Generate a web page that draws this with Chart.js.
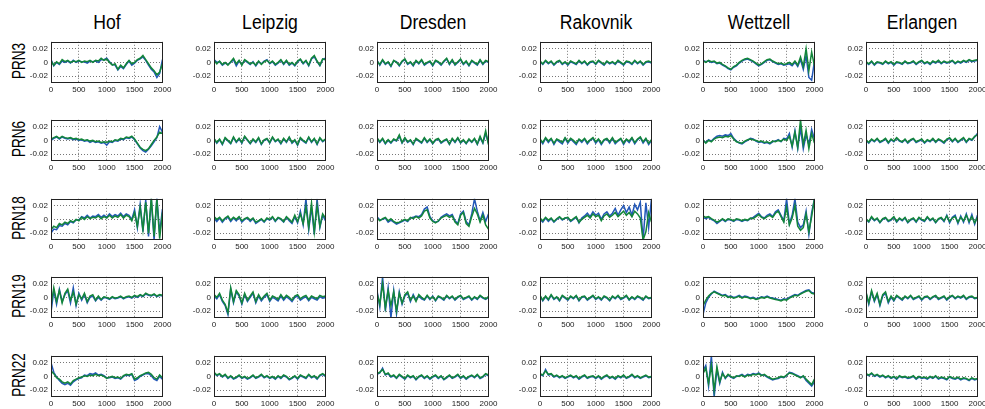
<!DOCTYPE html>
<html>
<head>
<meta charset="utf-8">
<script src="https://cdn.jsdelivr.net/npm/chart.js@4.4.0/dist/chart.umd.min.js"></script>
<style>
  body { margin: 0; background: #fff; }
  #page { position: relative; width: 985px; height: 409px; overflow: hidden; font-family: "Liberation Sans", Arial, sans-serif; }
  .title { position: absolute; top: 12px; font-size: 20px; line-height: 20px; color: #000; white-space: nowrap; transform: translateX(-50%) scaleX(0.88); }
  .rowlabel { position: absolute; font-size: 18px; line-height: 18px; color: #000; white-space: nowrap; transform: translate(-50%, -50%) rotate(-90deg) scaleX(0.75); }
  .panel { position: absolute; }
</style>
</head>
<body>
<div id="page"></div>
<script>
// Stations (columns) and satellites (rows)
const stations = ["Hof", "Leipzig", "Dresden", "Rakovnik", "Wettzell", "Erlangen"];
const satellites = ["PRN3", "PRN6", "PRN18", "PRN19", "PRN22"];
const xTicks = [0, 500, 1000, 1500, 2000];
const yTicks = [-0.02, 0, 0.02];

// Epochs (x values), shared by every panel
const epochs = [0,50,100,150,200,250,300,350,400,450,500,550,600,650,700,750,800,850,900,950,
  1000,1050,1100,1150,1200,1250,1300,1350,1400,1450,1500,1550,1600,1650,1700,1750,1800,1850,1900,1950,2000];

// ---- PRN3 ----
const hof3Blue = [0.004,-0.005,0.000,-0.003,0.002,0.000,0.002,-0.001,0.003,0.000,
  0.002,0.001,0.001,-0.001,0.002,0.001,0.002,0.000,0.004,0.004,
  0.006,0.001,-0.003,-0.004,-0.011,-0.006,-0.009,-0.003,0.002,-0.004,
  -0.001,0.003,0.005,0.008,0.003,-0.004,-0.010,-0.014,-0.022,-0.016,0.004];
const hof3Green = [0.002,-0.004,0.001,-0.002,0.004,0.001,0.003,0.000,0.002,0.001,
  0.003,0.000,0.002,0.001,0.003,0.000,0.003,0.002,0.006,0.003,
  0.005,0.000,-0.004,-0.002,-0.010,-0.004,-0.008,-0.002,0.003,-0.002,
  0.000,0.004,0.006,0.010,0.004,-0.002,-0.008,-0.012,-0.018,-0.014,-0.002];
const leipzig3Blue = [0.004,0.000,0.001,-0.004,-0.001,-0.003,0.000,0.004,-0.005,0.002,
  -0.003,0.003,0.000,-0.003,0.001,-0.005,0.001,-0.002,0.002,0.004,
  -0.002,0.001,-0.004,-0.001,0.003,-0.003,0.002,-0.004,-0.001,-0.005,
  0.001,0.004,-0.002,0.002,-0.005,0.005,0.008,0.001,-0.005,0.004,0.006];
const leipzig3Green = [0.003,-0.002,0.002,-0.003,0.000,-0.004,0.001,0.006,-0.002,0.003,
  -0.004,0.004,0.001,-0.002,0.000,-0.004,0.002,-0.003,0.001,0.003,
  -0.001,0.002,-0.003,0.000,0.004,-0.002,0.003,-0.003,0.000,-0.004,
  0.002,0.005,-0.001,0.003,-0.004,0.006,0.010,0.002,-0.004,0.005,0.004];
const dresden3Blue = [0.003,-0.004,0.003,-0.003,0.000,-0.006,0.002,0.001,-0.005,0.001,
  0.004,-0.003,0.000,-0.005,0.002,-0.002,0.003,-0.004,-0.001,0.001,
  -0.005,0.002,0.000,-0.004,0.001,0.005,-0.003,0.003,-0.004,0.000,
  0.004,-0.003,0.001,-0.005,0.002,-0.001,-0.004,0.003,-0.003,0.002,0.000];
const dresden3Green = [0.002,-0.003,0.004,-0.002,0.001,-0.005,0.003,0.000,-0.004,0.002,
  0.005,-0.002,0.001,-0.004,0.003,-0.001,0.004,-0.003,0.000,0.002,
  -0.004,0.003,0.001,-0.003,0.002,0.006,-0.002,0.004,-0.003,0.001,
  0.005,-0.002,0.002,-0.004,0.003,0.000,-0.003,0.004,-0.002,0.003,0.001];
const rakovnik3Blue = [0.001,-0.003,0.002,-0.002,0.001,-0.004,0.000,0.002,-0.003,0.000,
  -0.004,0.001,-0.001,-0.003,0.002,-0.002,0.001,-0.004,0.000,0.001,
  -0.003,0.002,-0.001,-0.004,0.001,-0.002,0.000,-0.003,0.002,-0.001,
  -0.004,0.001,0.000,-0.003,0.002,-0.002,0.001,-0.004,0.000,0.001,-0.001];
const rakovnik3Green = [0.002,-0.002,0.003,-0.001,0.002,-0.003,0.001,0.003,-0.002,0.001,
  -0.003,0.002,0.000,-0.002,0.003,-0.001,0.002,-0.003,0.001,0.002,
  -0.002,0.003,0.000,-0.003,0.002,-0.001,0.001,-0.002,0.003,0.000,
  -0.003,0.002,0.001,-0.002,0.003,-0.001,0.002,-0.003,0.001,0.002,0.000];
const wettzell3Blue = [0.003,0.001,0.002,0.000,0.001,-0.002,-0.001,-0.004,-0.006,-0.009,
  -0.011,-0.007,-0.005,-0.001,0.002,0.004,0.005,0.003,0.001,-0.002,
  -0.005,-0.003,0.000,0.003,0.004,0.001,-0.001,-0.003,-0.002,-0.004,
  -0.003,-0.002,-0.005,0.000,-0.006,0.004,-0.010,0.010,-0.022,-0.026,0.002];
const wettzell3Green = [0.002,0.000,0.003,0.001,0.002,-0.001,0.000,-0.003,-0.005,-0.008,
  -0.010,-0.006,-0.004,0.000,0.003,0.005,0.006,0.004,0.002,-0.001,
  -0.004,-0.002,0.001,0.004,0.005,0.002,0.000,-0.002,-0.001,-0.003,
  -0.002,0.000,-0.003,0.002,-0.004,0.008,-0.006,0.020,-0.012,0.015,-0.005];
const erlangen3Blue = [0.000,-0.003,0.001,-0.004,0.000,-0.001,-0.003,0.001,-0.002,0.000,
  -0.004,0.000,-0.001,-0.003,0.001,-0.002,-0.001,0.001,-0.003,0.000,
  0.002,-0.002,0.000,-0.003,0.001,-0.001,0.002,-0.002,0.001,-0.001,
  0.000,0.002,-0.002,0.001,-0.001,0.002,0.000,0.003,0.001,0.002,0.003];
const erlangen3Green = [0.001,-0.002,0.002,-0.003,0.001,0.000,-0.002,0.002,-0.001,0.001,
  -0.003,0.001,0.000,-0.002,0.002,-0.001,0.000,0.002,-0.002,0.001,
  0.003,-0.001,0.001,-0.002,0.002,0.000,0.003,-0.001,0.002,0.000,
  0.001,0.003,-0.001,0.002,0.000,0.003,0.001,0.004,0.002,0.003,0.004];

// ---- PRN6 ----
const hof6Blue = [0.000,0.003,0.005,0.002,0.005,0.003,0.002,0.003,0.001,0.002,
  0.000,0.001,-0.001,0.000,-0.003,-0.001,-0.003,-0.002,-0.004,-0.003,
  -0.007,-0.002,-0.003,0.000,-0.001,0.002,0.001,0.004,0.003,0.005,
  0.001,-0.005,-0.011,-0.015,-0.017,-0.013,-0.008,-0.002,0.004,0.020,0.012];
const hof6Green = [0.002,0.004,0.006,0.003,0.006,0.004,0.003,0.004,0.002,0.003,
  0.001,0.002,0.000,0.001,-0.001,0.000,-0.002,-0.001,-0.003,-0.002,
  -0.003,-0.001,-0.002,0.001,0.000,0.003,0.002,0.005,0.004,0.006,
  0.002,-0.004,-0.010,-0.013,-0.015,-0.012,-0.006,0.000,0.005,0.012,0.010];
const leipzig6Blue = [0.002,-0.004,0.001,-0.006,0.003,-0.001,-0.005,0.004,-0.003,0.002,
  -0.004,0.005,0.000,-0.005,0.001,-0.003,0.003,-0.006,0.000,0.002,
  -0.004,0.004,-0.002,0.001,-0.005,0.002,-0.003,0.004,-0.004,0.000,
  -0.007,0.003,-0.001,-0.004,0.004,-0.003,0.002,-0.006,0.003,-0.002,0.001];
const leipzig6Green = [0.003,-0.003,0.002,-0.005,0.004,0.000,-0.004,0.005,-0.002,0.003,
  -0.003,0.006,0.001,-0.004,0.002,-0.002,0.004,-0.005,0.001,0.003,
  -0.003,0.005,-0.001,0.002,-0.004,0.003,-0.002,0.005,-0.003,0.001,
  -0.006,0.004,0.000,-0.003,0.005,-0.002,0.003,-0.005,0.004,-0.001,0.002];
const dresden6Blue = [0.003,-0.003,0.002,-0.005,0.000,-0.004,0.001,-0.001,0.006,-0.004,
  0.003,-0.003,0.000,-0.006,0.002,-0.001,-0.004,0.003,-0.003,0.001,
  -0.005,0.000,0.002,-0.004,-0.001,0.001,-0.006,0.002,-0.003,0.003,
  -0.004,0.000,-0.005,0.001,-0.003,0.002,-0.006,0.004,-0.004,0.010,-0.004];
const dresden6Green = [0.004,-0.002,0.003,-0.004,0.001,-0.003,0.002,0.000,0.008,-0.003,
  0.004,-0.002,0.001,-0.005,0.003,0.000,-0.003,0.004,-0.002,0.002,
  -0.004,0.001,0.003,-0.003,0.000,0.002,-0.005,0.003,-0.002,0.004,
  -0.003,0.001,-0.004,0.002,-0.002,0.003,-0.005,0.006,-0.003,0.014,-0.006];
const rakovnik6Blue = [0.001,-0.005,0.003,-0.003,0.002,-0.006,0.001,-0.002,-0.005,0.003,
  -0.004,0.002,-0.002,-0.006,0.001,-0.003,0.002,-0.005,0.000,0.003,
  -0.004,0.001,-0.006,0.000,0.002,-0.004,0.003,-0.005,-0.001,0.002,
  -0.006,0.001,-0.003,0.003,-0.005,0.001,0.004,-0.004,0.002,-0.006,0.000];
const rakovnik6Green = [0.002,-0.003,0.004,-0.001,0.003,-0.004,0.002,0.000,-0.003,0.004,
  -0.002,0.003,0.000,-0.004,0.002,-0.001,0.003,-0.003,0.001,0.004,
  -0.002,0.002,-0.004,0.001,0.003,-0.002,0.004,-0.003,0.000,0.003,
  -0.004,0.002,-0.001,0.004,-0.003,0.002,0.005,-0.002,0.003,-0.004,0.001];
const wettzell6Blue = [0.000,-0.003,0.001,-0.001,0.003,0.006,0.007,0.006,0.008,0.007,
  0.010,0.003,-0.001,-0.004,-0.005,-0.002,0.000,0.003,0.002,-0.001,
  -0.003,-0.002,-0.004,-0.003,-0.005,-0.002,-0.001,0.001,-0.002,0.003,
  0.002,0.010,-0.010,0.014,-0.012,0.018,-0.012,0.008,-0.006,0.016,0.002];
const wettzell6Green = [0.001,-0.004,0.000,-0.002,0.002,0.004,0.005,0.004,0.006,0.005,
  0.007,0.002,-0.002,-0.003,-0.004,-0.001,0.001,0.002,0.001,0.000,
  -0.002,-0.001,-0.003,-0.002,-0.004,-0.001,-0.002,0.000,-0.001,0.002,
  0.000,0.006,-0.008,0.012,-0.010,0.030,-0.006,0.015,-0.012,0.010,-0.004];
const erlangen6Blue = [0.000,-0.004,0.001,-0.002,0.002,-0.003,-0.001,0.002,-0.004,0.001,
  -0.002,0.003,-0.001,-0.003,0.001,-0.004,0.000,0.002,-0.003,-0.001,
  0.001,-0.004,0.000,-0.002,0.002,-0.003,0.001,-0.001,-0.004,0.001,
  0.003,-0.002,0.002,-0.003,0.000,0.003,-0.003,0.002,0.000,0.005,0.010];
const erlangen6Green = [0.001,-0.003,0.002,-0.001,0.003,-0.002,0.000,0.003,-0.003,0.002,
  -0.001,0.004,0.000,-0.002,0.002,-0.003,0.001,0.003,-0.002,0.000,
  0.002,-0.003,0.001,-0.001,0.003,-0.002,0.002,0.000,-0.003,0.002,
  0.004,-0.001,0.003,-0.002,0.001,0.004,-0.002,0.003,0.001,0.006,0.008];

// ---- PRN18 ----
const hof18Blue = [-0.020,-0.014,-0.015,-0.009,-0.010,-0.006,-0.008,-0.003,-0.005,-0.001,
  -0.001,0.004,0.002,0.006,0.002,0.005,0.004,0.007,0.003,0.006,
  0.003,0.008,0.004,0.007,0.005,0.009,0.004,0.008,0.006,0.000,
  0.014,-0.012,0.022,-0.018,0.028,-0.025,0.030,-0.030,0.032,-0.020,0.015];
const hof18Green = [-0.015,-0.010,-0.012,-0.006,-0.008,-0.004,-0.006,-0.002,-0.004,0.000,
  -0.002,0.003,0.000,0.004,0.001,0.003,0.002,0.005,0.001,0.004,
  0.002,0.006,0.002,0.005,0.003,0.007,0.002,0.006,0.004,-0.002,
  0.010,-0.010,0.018,-0.015,0.025,-0.020,0.032,-0.025,0.030,-0.028,0.010];
const leipzig18Blue = [0.002,-0.003,0.002,-0.004,0.001,0.003,-0.003,0.002,-0.002,0.003,
  -0.004,0.000,0.002,-0.003,0.001,-0.006,-0.003,0.000,-0.004,0.001,
  -0.001,0.003,-0.003,0.002,0.000,-0.004,0.003,-0.002,-0.006,0.004,
  -0.005,0.012,-0.008,0.030,-0.015,0.018,-0.022,0.030,-0.012,0.006,-0.002];
const leipzig18Green = [0.004,0.000,0.003,-0.002,0.002,0.005,-0.001,0.003,0.000,0.004,
  -0.002,0.001,0.003,-0.001,0.002,-0.004,-0.002,0.001,-0.003,0.002,
  0.000,0.004,-0.002,0.003,0.001,-0.003,0.004,0.000,-0.004,0.006,
  -0.003,0.008,-0.006,0.018,-0.012,0.024,-0.018,0.020,-0.010,0.008,0.002];
const dresden18Blue = [0.004,-0.001,0.000,0.002,-0.004,-0.001,-0.004,-0.007,-0.005,-0.003,
  -0.001,-0.003,0.002,0.003,0.005,0.004,0.007,0.015,0.018,0.004,
  -0.002,-0.004,-0.003,0.003,0.006,0.008,0.005,0.007,-0.002,-0.006,
  0.008,0.012,-0.003,-0.008,0.008,0.030,0.012,-0.002,0.010,-0.003,0.008];
const dresden18Green = [0.002,-0.002,0.001,0.003,-0.002,0.001,-0.003,-0.005,-0.004,-0.002,
  0.000,-0.002,0.003,0.001,0.004,0.002,0.005,0.012,0.014,0.002,
  -0.003,-0.005,-0.002,0.002,0.004,0.006,0.003,0.005,-0.004,-0.008,
  0.006,0.010,-0.006,-0.010,0.004,0.016,0.008,-0.004,0.006,-0.008,-0.014];
const rakovnik18Blue = [0.000,-0.004,0.002,-0.003,0.001,-0.004,0.000,0.003,-0.001,0.002,
  0.002,-0.003,0.000,0.003,-0.005,0.002,0.005,0.009,0.004,0.011,
  0.006,0.009,0.000,0.008,0.011,0.005,0.009,0.016,0.006,0.014,
  0.020,0.010,0.018,0.006,0.022,0.014,0.025,-0.030,0.024,-0.012,0.030];
const rakovnik18Green = [0.002,-0.002,0.003,-0.001,0.002,-0.003,0.001,0.004,0.000,0.002,
  0.003,-0.002,0.001,0.004,-0.004,0.000,0.003,0.006,0.002,0.008,
  0.004,0.006,-0.002,0.005,0.008,0.003,0.006,0.010,0.004,0.008,
  0.012,0.006,0.010,0.004,0.012,0.008,0.002,-0.030,-0.018,0.010,-0.004];
const wettzell18Blue = [0.003,0.001,0.003,0.000,-0.002,-0.006,-0.003,0.000,-0.003,0.000,
  -0.001,-0.003,0.000,-0.001,-0.003,-0.001,-0.002,0.001,0.003,0.006,
  0.009,0.004,0.002,0.006,0.008,0.004,0.011,0.014,0.006,-0.002,
  0.030,-0.006,0.006,0.030,-0.004,-0.012,-0.008,0.012,-0.022,0.010,0.030];
const wettzell18Green = [0.005,0.003,0.004,0.001,-0.001,-0.004,-0.002,0.001,-0.002,0.001,
  0.000,-0.002,0.001,0.000,-0.002,0.000,-0.001,0.002,0.001,0.004,
  0.007,0.003,0.001,0.004,0.006,0.003,0.009,0.012,0.004,-0.004,
  0.018,-0.008,0.002,0.020,-0.010,-0.016,-0.012,0.008,-0.018,0.004,0.030];
const erlangen18Blue = [0.000,-0.004,0.003,-0.002,0.001,-0.005,0.000,0.002,-0.003,-0.001,
  0.003,-0.004,0.001,-0.002,0.002,-0.005,-0.001,0.001,-0.004,0.002,
  -0.001,-0.003,0.003,-0.002,0.001,-0.005,0.000,0.002,-0.003,0.006,
  -0.005,0.003,0.006,-0.006,0.005,-0.004,0.008,-0.005,0.007,-0.007,0.006];
const erlangen18Green = [0.001,-0.003,0.004,-0.001,0.002,-0.004,0.001,0.003,-0.002,0.000,
  0.004,-0.003,0.002,-0.001,0.003,-0.004,0.000,0.002,-0.003,0.003,
  0.000,-0.002,0.004,-0.001,0.002,-0.004,0.001,0.003,-0.002,0.005,
  -0.003,0.002,0.004,-0.004,0.003,-0.002,0.006,-0.003,0.004,-0.005,0.003];

// ---- PRN19 ----
const hof19Blue = [-0.022,0.010,-0.010,0.012,-0.006,0.004,0.010,-0.008,0.014,-0.012,
  0.006,-0.004,0.004,-0.008,0.000,0.002,-0.005,0.000,-0.004,0.000,
  -0.001,-0.003,0.000,-0.002,-0.001,0.001,-0.002,0.000,0.001,-0.001,
  0.002,0.000,0.003,0.001,0.005,0.003,0.002,0.004,0.001,0.003,0.002];
const hof19Green = [-0.012,0.014,-0.006,0.010,-0.008,0.006,0.012,-0.004,0.008,-0.010,
  0.004,-0.002,0.006,-0.006,0.002,0.004,-0.004,0.002,-0.003,0.001,
  0.000,-0.002,0.001,-0.001,0.000,0.002,-0.001,0.001,0.002,0.000,
  0.003,0.001,0.004,0.002,0.006,0.004,0.003,0.005,0.002,0.004,0.003];
const leipzig19Blue = [0.002,-0.002,0.004,-0.006,-0.012,-0.025,0.012,-0.008,0.008,0.002,
  -0.010,0.004,-0.006,0.000,0.006,-0.008,0.002,-0.005,0.000,0.004,
  -0.006,0.000,-0.002,-0.005,0.002,-0.004,0.001,-0.002,-0.006,0.000,
  0.002,-0.004,-0.001,0.001,-0.005,0.000,-0.002,-0.004,0.001,-0.001,0.000];
const leipzig19Green = [0.004,0.000,0.006,-0.004,-0.010,-0.022,0.014,-0.006,0.010,0.004,
  -0.008,0.006,-0.004,0.002,0.008,-0.006,0.004,-0.003,0.002,0.006,
  -0.004,0.002,0.000,-0.003,0.004,-0.002,0.003,0.000,-0.004,0.002,
  0.004,-0.002,0.001,0.003,-0.003,0.002,0.000,-0.002,0.003,0.001,0.002];
const dresden19Blue = [0.010,-0.014,0.030,-0.020,0.014,-0.030,0.010,-0.024,0.008,-0.010,
  0.002,0.006,-0.006,0.004,-0.004,0.002,-0.002,-0.004,0.002,-0.003,
  0.002,-0.005,0.001,-0.001,-0.004,0.002,-0.002,0.001,-0.004,0.000,
  0.002,-0.003,-0.001,0.001,-0.004,0.000,-0.003,0.002,-0.001,-0.003,0.000];
const dresden19Green = [0.006,-0.010,0.020,-0.015,0.010,-0.012,0.008,-0.020,0.006,-0.008,
  0.004,0.008,-0.004,0.002,-0.006,0.004,0.000,-0.003,0.003,-0.002,
  0.001,-0.004,0.002,0.000,-0.003,0.003,-0.001,0.002,-0.003,0.001,
  0.003,-0.002,0.000,0.002,-0.003,0.001,-0.002,0.003,0.000,-0.002,0.001];
const rakovnik19Blue = [0.002,-0.005,0.001,-0.004,0.003,-0.003,0.000,-0.005,0.002,-0.001,
  -0.004,0.001,-0.002,0.002,-0.005,0.000,0.001,-0.004,-0.001,0.002,
  -0.003,0.000,-0.004,0.001,-0.001,-0.005,0.001,-0.002,0.002,-0.003,
  -0.001,0.002,-0.004,0.000,-0.003,0.001,-0.001,-0.004,0.001,-0.002,-0.001];
const rakovnik19Green = [0.003,-0.004,0.002,-0.003,0.004,-0.002,0.001,-0.004,0.003,0.000,
  -0.003,0.002,-0.001,0.003,-0.004,0.001,0.002,-0.003,0.000,0.003,
  -0.002,0.001,-0.003,0.002,0.000,-0.004,0.002,-0.001,0.003,-0.002,
  0.000,0.003,-0.003,0.001,-0.002,0.002,0.000,-0.003,0.002,-0.001,0.000];
const wettzell19Blue = [-0.025,-0.008,0.000,0.005,0.009,0.007,0.005,0.003,0.004,0.001,
  0.002,0.000,0.001,0.003,0.000,0.002,0.001,-0.001,0.000,-0.002,
  -0.001,0.001,0.000,0.002,0.000,-0.001,-0.002,-0.003,-0.004,-0.002,
  -0.003,0.000,0.002,0.004,0.003,0.006,0.008,0.010,0.011,0.007,0.006];
const wettzell19Green = [-0.012,-0.004,0.002,0.006,0.008,0.006,0.004,0.002,0.003,0.000,
  0.001,-0.001,0.000,0.002,-0.001,0.001,0.000,-0.002,-0.001,-0.003,
  -0.002,0.000,-0.001,0.001,-0.001,-0.002,-0.003,-0.004,-0.005,-0.003,
  -0.004,-0.001,0.001,0.003,0.002,0.005,0.007,0.009,0.010,0.006,0.005];
const erlangen19Blue = [0.006,-0.010,0.008,-0.006,0.004,-0.012,0.002,0.006,-0.008,0.000,
  -0.005,0.002,-0.001,-0.004,0.001,-0.002,0.002,-0.003,-0.001,0.001,
  -0.004,0.000,0.001,-0.003,0.000,0.002,-0.003,-0.001,0.001,-0.004,
  0.000,0.002,-0.002,0.001,-0.001,0.002,-0.003,0.000,0.001,-0.002,-0.001];
const erlangen19Green = [0.008,-0.008,0.010,-0.004,0.006,-0.010,0.004,0.008,-0.006,0.002,
  -0.004,0.003,0.000,-0.003,0.002,-0.001,0.003,-0.002,0.000,0.002,
  -0.003,0.001,0.002,-0.002,0.001,0.003,-0.002,0.000,0.002,-0.003,
  0.001,0.003,-0.001,0.002,0.000,0.003,-0.002,0.001,0.002,-0.001,0.000];

// ---- PRN22 ----
const hof22Blue = [0.020,0.006,-0.001,-0.006,-0.010,-0.012,-0.010,-0.013,-0.008,-0.005,
  -0.003,-0.002,0.002,0.001,0.004,0.003,0.005,0.002,0.003,0.001,
  -0.002,-0.002,-0.001,-0.003,-0.002,-0.004,0.000,0.002,0.001,0.003,
  -0.006,-0.004,0.000,0.002,0.004,0.004,0.001,-0.004,-0.006,0.000,-0.004];
const hof22Green = [0.008,0.004,-0.002,-0.004,-0.008,-0.010,-0.008,-0.011,-0.006,-0.004,
  -0.002,-0.001,0.001,0.000,0.002,0.001,0.003,0.001,0.002,0.000,
  -0.003,-0.001,0.000,-0.002,-0.001,-0.003,0.001,0.003,0.002,0.004,
  -0.004,-0.002,0.001,0.003,0.005,0.006,0.003,-0.002,-0.004,0.002,-0.002];
const leipzig22Blue = [0.005,0.001,0.003,-0.001,0.002,-0.003,0.000,-0.004,-0.002,0.001,
  -0.003,-0.001,-0.004,-0.002,0.001,-0.003,-0.001,0.002,-0.002,0.000,
  -0.003,-0.001,-0.004,0.000,-0.003,0.001,-0.001,-0.005,-0.003,0.000,
  -0.004,0.001,-0.001,-0.003,0.002,-0.002,0.000,-0.004,0.001,0.003,0.000];
const leipzig22Green = [0.006,0.002,0.004,0.000,0.003,-0.002,0.001,-0.003,-0.001,0.002,
  -0.002,0.000,-0.003,-0.001,0.002,-0.002,0.000,0.003,-0.001,0.001,
  -0.002,0.000,-0.003,0.001,-0.002,0.002,0.000,-0.004,-0.002,0.001,
  -0.003,0.002,0.000,-0.002,0.003,-0.001,0.001,-0.003,0.002,0.004,0.001];
const dresden22Blue = [0.003,0.005,0.012,0.002,0.004,-0.001,0.001,-0.003,0.002,-0.001,
  -0.004,0.001,-0.002,0.000,-0.005,-0.001,0.001,-0.003,0.000,-0.004,
  -0.001,0.001,-0.003,0.000,-0.005,-0.002,0.001,-0.003,-0.001,0.002,
  -0.003,0.000,-0.004,-0.001,0.001,-0.002,0.002,-0.003,-0.001,0.003,0.001];
const dresden22Green = [0.004,0.006,0.010,0.003,0.005,0.000,0.002,-0.002,0.003,0.000,
  -0.003,0.002,-0.001,0.001,-0.004,0.000,0.002,-0.002,0.001,-0.003,
  0.000,0.002,-0.002,0.001,-0.004,-0.001,0.002,-0.002,0.000,0.003,
  -0.002,0.001,-0.003,0.000,0.002,-0.001,0.003,-0.002,0.000,0.004,0.002];
const rakovnik22Blue = [0.003,0.001,0.010,0.002,0.003,-0.001,0.001,-0.002,0.000,-0.003,
  -0.001,0.001,-0.002,0.000,-0.004,-0.001,0.001,-0.003,-0.001,0.000,
  -0.003,0.000,-0.004,-0.001,0.001,-0.003,-0.001,-0.004,0.000,-0.002,
  0.001,-0.003,-0.001,0.002,-0.002,0.000,-0.003,-0.001,0.001,-0.002,-0.001];
const rakovnik22Green = [0.004,0.002,0.008,0.003,0.004,0.000,0.002,-0.001,0.001,-0.002,
  0.000,0.002,-0.001,0.001,-0.003,0.000,0.002,-0.002,0.000,0.001,
  -0.002,0.001,-0.003,0.000,0.002,-0.002,0.000,-0.003,0.001,-0.001,
  0.002,-0.002,0.000,0.003,-0.001,0.001,-0.002,0.000,0.002,-0.001,0.000];
const wettzell22Blue = [0.008,0.016,-0.014,0.030,-0.030,0.010,-0.010,0.006,-0.003,0.002,
  -0.001,-0.003,0.000,0.001,0.003,0.000,0.003,0.002,0.004,0.003,
  0.005,0.002,0.002,-0.001,-0.003,-0.005,-0.004,-0.003,-0.001,-0.002,
  0.001,0.006,0.005,0.003,0.001,-0.001,0.000,-0.006,-0.010,-0.014,-0.008];
const wettzell22Green = [0.004,0.012,-0.010,0.016,-0.020,0.014,-0.008,0.004,-0.002,0.003,
  0.000,-0.002,0.001,0.000,0.002,-0.001,0.002,0.001,0.003,0.002,
  0.004,0.001,0.003,0.000,-0.002,-0.004,-0.003,-0.002,0.000,-0.001,
  0.002,0.005,0.004,0.002,0.000,-0.002,0.001,-0.004,-0.008,-0.012,-0.004];
const erlangen22Blue = [0.003,0.001,0.004,0.000,0.002,-0.001,0.001,-0.002,0.000,-0.003,
  -0.001,-0.004,0.000,-0.002,-0.001,-0.003,-0.002,0.000,-0.004,-0.001,
  -0.003,-0.002,-0.004,-0.001,-0.003,0.000,-0.004,-0.002,-0.003,-0.005,
  -0.001,-0.003,-0.004,-0.002,-0.005,-0.003,-0.004,-0.006,-0.003,-0.005,-0.004];
const erlangen22Green = [0.004,0.002,0.005,0.001,0.003,0.000,0.002,-0.001,0.001,-0.002,
  0.000,-0.003,0.001,-0.001,0.000,-0.002,-0.001,0.001,-0.003,0.000,
  -0.002,-0.001,-0.003,0.000,-0.002,0.001,-0.003,-0.001,-0.002,-0.004,
  0.000,-0.002,-0.003,-0.001,-0.004,-0.002,-0.003,-0.005,-0.002,-0.004,-0.003];

// rows = satellites, cols = stations, each cell [blue, green]
const panels = [
  [[hof3Blue, hof3Green], [leipzig3Blue, leipzig3Green], [dresden3Blue, dresden3Green], [rakovnik3Blue, rakovnik3Green], [wettzell3Blue, wettzell3Green], [erlangen3Blue, erlangen3Green]],
  [[hof6Blue, hof6Green], [leipzig6Blue, leipzig6Green], [dresden6Blue, dresden6Green], [rakovnik6Blue, rakovnik6Green], [wettzell6Blue, wettzell6Green], [erlangen6Blue, erlangen6Green]],
  [[hof18Blue, hof18Green], [leipzig18Blue, leipzig18Green], [dresden18Blue, dresden18Green], [rakovnik18Blue, rakovnik18Green], [wettzell18Blue, wettzell18Green], [erlangen18Blue, erlangen18Green]],
  [[hof19Blue, hof19Green], [leipzig19Blue, leipzig19Green], [dresden19Blue, dresden19Green], [rakovnik19Blue, rakovnik19Green], [wettzell19Blue, wettzell19Green], [erlangen19Blue, erlangen19Green]],
  [[hof22Blue, hof22Green], [leipzig22Blue, leipzig22Green], [dresden22Blue, dresden22Green], [rakovnik22Blue, rakovnik22Green], [wettzell22Blue, wettzell22Green], [erlangen22Blue, erlangen22Green]]
];

// layout of the grid (plot area positions in px)
const colLeft = [51, 214, 377, 540, 703, 866];
const rowTop = [38, 116, 195, 273, 352];
const plotW = 112, plotH = 45;
const axisW = 44, axisH = 18, padTop = 4, padRight = 14;

const tickFont = { family: "'Liberation Sans Narrow', 'Arial Narrow', 'Liberation Sans', Arial, sans-serif", size: 8 };

// box around each plot area
const framePlugin = {
  id: 'frame',
  afterDraw(chart) {
    const a = chart.chartArea;
    const ctx = chart.ctx;
    ctx.save();
    ctx.strokeStyle = '#222';
    ctx.lineWidth = 1;
    ctx.strokeRect(Math.round(a.left) + 0.5, Math.round(a.top) + 0.5, Math.round(a.right - a.left) - 1, Math.round(a.bottom - a.top) - 1);
    ctx.restore();
  }
};

const page = document.getElementById('page');

stations.forEach((name, c) => {
  const t = document.createElement('div');
  t.className = 'title';
  t.style.left = (colLeft[c] + plotW / 2) + 'px';
  t.textContent = name;
  page.appendChild(t);
});

satellites.forEach((name, r) => {
  const l = document.createElement('div');
  l.className = 'rowlabel';
  l.style.left = '19px';
  l.style.top = (rowTop[r] + plotH / 2) + 'px';
  l.textContent = name;
  page.appendChild(l);
});

function toPoints(values) {
  return values.map((y, i) => ({ x: epochs[i], y: y }));
}

panels.forEach((row, r) => {
  row.forEach((cell, c) => {
    const w = axisW + plotW + padRight;
    const h = padTop + plotH + axisH;
    const canvas = document.createElement('canvas');
    canvas.className = 'panel';
    canvas.width = w;
    canvas.height = h;
    canvas.style.width = w + 'px';
    canvas.style.height = h + 'px';
    canvas.style.left = (colLeft[c] - axisW) + 'px';
    canvas.style.top = (rowTop[r] - padTop) + 'px';
    page.appendChild(canvas);

    new Chart(canvas.getContext('2d'), {
      type: 'line',
      data: {
        datasets: [
          // blue is drawn first, green on top of it
          { data: toPoints(cell[0]), borderColor: '#2257b8', borderWidth: 1.5, order: 2 },
          { data: toPoints(cell[1]), borderColor: '#13863a', borderWidth: 1.5, order: 1 }
        ]
      },
      options: {
        responsive: false,
        animation: false,
        events: [],
        layout: { padding: { left: 0, top: padTop, right: padRight, bottom: 0 } },
        elements: { point: { radius: 0 }, line: { tension: 0 } },
        plugins: { legend: { display: false }, tooltip: { enabled: false } },
        scales: {
          x: {
            type: 'linear', min: 0, max: 2010,
            afterBuildTicks: s => { s.ticks = xTicks.map(v => ({ value: v })); },
            afterFit: s => { s.height = axisH; },
            ticks: { font: tickFont, color: '#222', padding: 2, maxRotation: 0, autoSkip: false, callback: v => String(v) },
            grid: { color: '#777', lineWidth: 1, drawTicks: false },
            border: { display: false, dash: [1, 2] }
          },
          y: {
            type: 'linear', min: -0.03, max: 0.03,
            afterBuildTicks: s => { s.ticks = yTicks.map(v => ({ value: v })); },
            afterFit: s => { s.width = axisW; },
            ticks: { font: tickFont, color: '#222', padding: 3, autoSkip: false, callback: v => (v === 0 ? '0' : v.toFixed(2)) },
            grid: { color: '#777', lineWidth: 1, drawTicks: false },
            border: { display: false, dash: [1, 2] }
          }
        }
      },
      plugins: [framePlugin]
    });
  });
});
</script>
</body>
</html>
